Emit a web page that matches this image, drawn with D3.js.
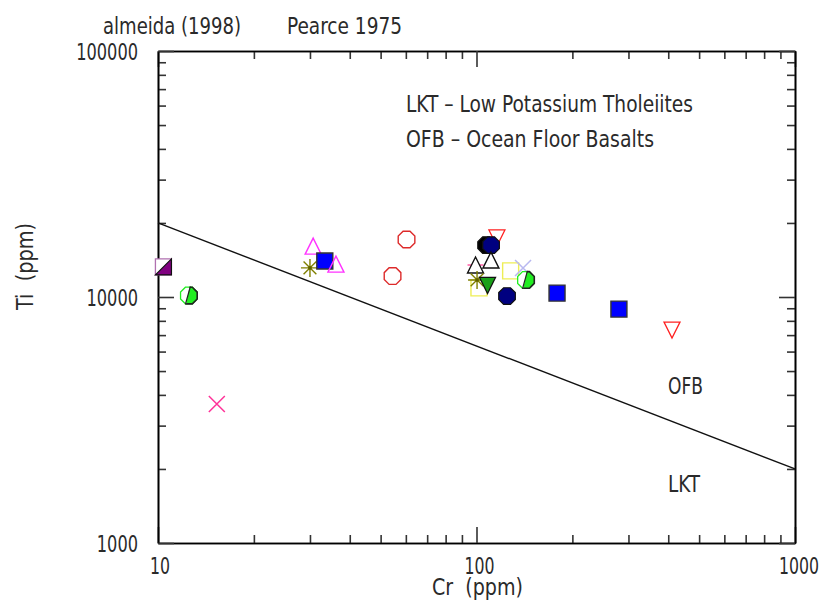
<!DOCTYPE html>
<html>
<head>
<meta charset="utf-8">
<script src="https://cdn.jsdelivr.net/npm/d3@7"></script>
<style>
    body { margin: 0; background: #fff; }
    svg text { font-family: "DejaVu Sans Condensed", "DejaVu Sans", sans-serif; fill: #2a2a2a; }
</style>
</head>
<body>
<div class="viewport"></div>
<script>

// samples, in drawing order (later ones sit on top)
var sampleCr = [10.4, 12.5, 15.3, 30.7, 30, 33.4, 36.2, 60.3, 54.5,
    115.9, 107.2, 111.1, 99.3, 99.3, 111, 128, 140, 143,
    101.8, 100.4, 108.3, 124.7, 179, 280, 411];
var sampleTi = [13250, 10140, 3675, 16100, 13130, 14000, 13600, 17130, 12160,
    17380, 16250, 16250, 13490, 13490, 14130, 12770, 13130, 11730,
    10890, 11730, 11140, 10090, 10370, 8930, 7340];
var sampleSymbol = ["halfSquarePurple", "halfOctGreen", "xPink", "triMagenta", "asteriskOlive", "squareBlue", "triMagenta", "octRed", "octRed",
    "triDownRed", "octBlack", "octNavy", "dashPink", "triWhite", "triWhite", "squareYellow", "xLavender", "halfOctGreen",
    "squareYellow", "asteriskOlive", "triDownGreen", "octNavy", "squareBlue", "squareBlue", "triDownRed"];

// Pearce 1975 LKT / OFB boundary
var boundaryCr = [10, 1000];
var boundaryTi = [20000, 2000];

var xTickLabels = [10, 100, 1000];
var yTickLabels = [1000, 10000, 100000];

function letsGo() {

    var width = 826,
        height = 602,
        left = 158, right = 795,
        top = 51, bottom = 543;

    var svg = d3.select(".viewport").append("svg")
        .attr("width", width)
        .attr("height", height);

    var x = d3.scaleLog().domain([10, 1000]).range([left, right]);
    var y = d3.scaleLog().domain([1000, 100000]).range([bottom, top]);

    var xMinor = x.ticks().filter(function (d) { return xTickLabels.indexOf(d) < 0; });
    var yMinor = y.ticks().filter(function (d) { return yTickLabels.indexOf(d) < 0; });

    // inward ticks on all four sides, minor short, major long
    function frame(axisFn, scale, translate, minor, major) {
        var g = svg.append("g").attr("transform", translate);
        g.call(axisFn(scale).tickValues(minor).tickSize(-8).tickSizeOuter(0).tickFormat(""));
        g.append("g").call(axisFn(scale).tickValues(major).tickSize(-16).tickSizeOuter(0).tickFormat(""));
        g.selectAll("path.domain").attr("stroke", "#000").attr("stroke-width", 1.6);
        g.selectAll(".tick line").attr("stroke", "#333").attr("stroke-width", 1.6);
    }
    frame(d3.axisBottom, x, "translate(0," + bottom + ")", xMinor, xTickLabels);
    frame(d3.axisTop, x, "translate(0," + top + ")", xMinor, xTickLabels);
    frame(d3.axisLeft, y, "translate(" + left + ",0)", yMinor, yTickLabels);
    frame(d3.axisRight, y, "translate(" + right + ",0)", yMinor, yTickLabels);

    // the plotter font is narrow, so squeeze glyphs to its widths
    function label(px, py, str, len) {
        return svg.append("text")
            .attr("x", px).attr("y", py)
            .attr("font-size", 23)
            .attr("textLength", len)
            .attr("lengthAdjust", "spacingAndGlyphs")
            .style("white-space", "pre")
            .text(str);
    }

    xTickLabels.forEach(function (d, i) {
        var s = String(d), w = s.length * 10;
        label(x(d) + 2 + i - w / 2, 574, s, w);
    });
    yTickLabels.forEach(function (d) {
        var s = String(d), w = s.length * 10.3;
        label(138 - w, y(d) + 8.5, s, w);
    });

    // boundary line
    svg.append("line")
        .attr("x1", x(boundaryCr[0])).attr("y1", y(boundaryTi[0]))
        .attr("x2", x(boundaryCr[1])).attr("y2", y(boundaryTi[1]))
        .attr("stroke", "#111").attr("stroke-width", 1.4);

    svg.append("defs").append("clipPath").attr("id", "rightHalf")
        .append("path").attr("d", "M1.5,-12 L14,-12 L14,12 L-3.5,12 Z");

    var oct = d3.range(8).map(function (i) {
        var a = Math.PI / 8 + i * Math.PI / 4;
        return [9 * Math.cos(a), 9 * Math.sin(a)];
    });
    var octPath = "M" + oct.join("L") + "Z";
    var square = "M-8,-8L8,-8L8,8L-8,8Z";
    var triUp = "M-8,8L8,8L0,-8Z";
    var triDown = "M-8,-8L8,-8L0,8Z";

    function mark(g, kind) {
        switch (kind) {
            case "halfSquarePurple":
                g.append("path").attr("d", square).attr("fill", "#fff").attr("stroke", "#b070b0").attr("stroke-width", 1.3);
                g.append("path").attr("d", "M8,-8L8,8L-8,8Z").attr("fill", "#800080").attr("stroke", "#111").attr("stroke-width", 1.2);
                break;
            case "halfOctGreen":
                g.append("path").attr("d", octPath).attr("fill", "#fff").attr("stroke", "#22ee22").attr("stroke-width", 1.3);
                g.append("path").attr("d", octPath).attr("clip-path", "url(#rightHalf)")
                    .attr("fill", "#22ee22").attr("stroke", "#222").attr("stroke-width", 1.6);
                g.append("line").attr("x1", 1.5).attr("y1", -9).attr("x2", -3.5).attr("y2", 9)
                    .attr("stroke", "#222").attr("stroke-width", 1.2);
                break;
            case "xPink":
            case "xLavender":
                g.append("path").attr("d", "M-8,-8L8,8M8,-8L-8,8")
                    .attr("stroke", kind === "xPink" ? "#ff3399" : "#b8b8f0").attr("stroke-width", 1.5);
                break;
            case "dashPink":
                g.append("path").attr("d", "M-8,0L8,0").attr("stroke", "#ff66aa").attr("stroke-width", 1.6);
                break;
            case "asteriskOlive":
                g.append("path").attr("d", "M-9,0L9,0M0,-9L0,9M-6.4,-6.4L6.4,6.4M6.4,-6.4L-6.4,6.4")
                    .attr("stroke", "#808000").attr("stroke-width", 1.4);
                g.append("circle").attr("r", 1.8).attr("fill", "#606000");
                break;
            case "triMagenta":
                g.append("path").attr("d", triUp).attr("fill", "none").attr("stroke", "#ff33ff").attr("stroke-width", 1.4);
                break;
            case "triWhite":
                g.append("path").attr("d", triUp).attr("fill", "#fff").attr("stroke", "#111").attr("stroke-width", 1.4);
                break;
            case "triDownRed":
                g.append("path").attr("d", triDown).attr("fill", "none").attr("stroke", "#ff2020").attr("stroke-width", 1.3);
                break;
            case "triDownGreen":
                g.append("path").attr("d", triDown).attr("fill", "#1aa01a").attr("stroke", "#111").attr("stroke-width", 1.3);
                break;
            case "octRed":
                g.append("path").attr("d", octPath).attr("fill", "none").attr("stroke", "#dd2a2a").attr("stroke-width", 1.4);
                break;
            case "octNavy":
            case "octBlack":
                g.append("path").attr("d", octPath).attr("fill", kind === "octNavy" ? "#000080" : "#000")
                    .attr("stroke", "#111").attr("stroke-width", 1.2);
                break;
            case "squareBlue":
                g.append("path").attr("d", square).attr("fill", "#0000ff").attr("stroke", "#333").attr("stroke-width", 1.4);
                break;
            case "squareYellow":
                g.append("path").attr("d", square).attr("fill", "none").attr("stroke", "#eeee55").attr("stroke-width", 1.4);
                break;
        }
    }

    svg.append("g").selectAll("g").data(d3.range(sampleCr.length)).enter().append("g")
        .attr("transform", function (i) { return "translate(" + x(sampleCr[i]) + "," + y(sampleTi[i]) + ")"; })
        .each(function (i) { mark(d3.select(this), sampleSymbol[i]); });

    // texts
    label(103, 34, "almeida (1998)", 138);
    label(287, 34, "Pearce 1975", 115);
    label(406, 112, "LKT – Low Potassium Tholeiites", 287);
    label(406, 147, "OFB – Ocean Floor Basalts", 248);
    label(668, 394, "OFB", 35);
    label(668, 492, "LKT", 32);
    label(432, 595, "Cr  (ppm)", 91);
    label(0, 0, "Ti  (ppm)", 87).attr("transform", "translate(33,310) rotate(-90)");
}

letsGo();
</script>
</body>
</html>
